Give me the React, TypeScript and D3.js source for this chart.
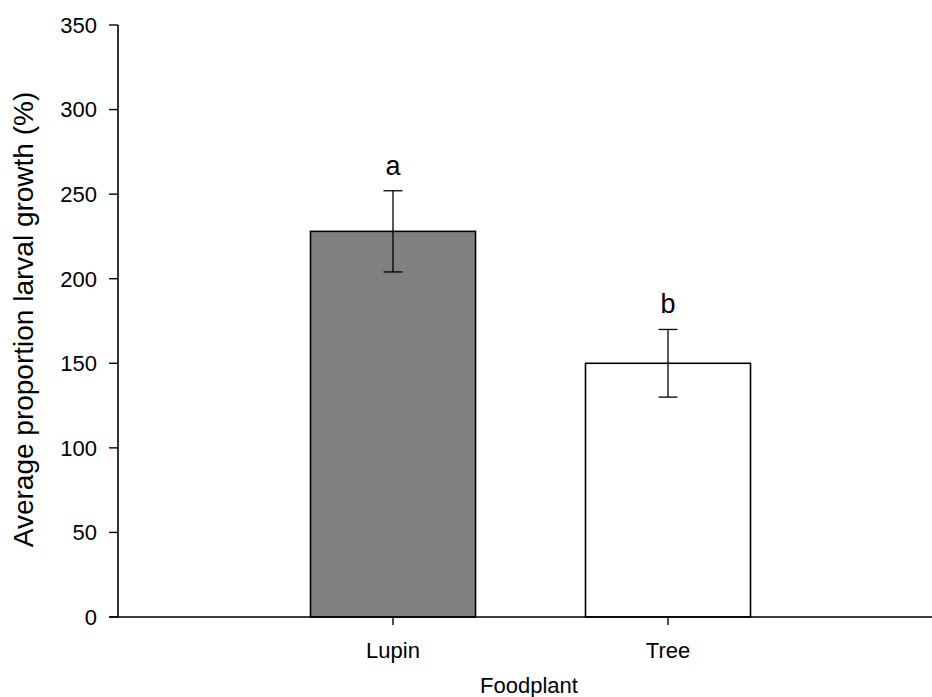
import React from 'react';
import * as d3 from 'd3';

// values
const foodplants = ['Lupin', 'Tree'];
const means = [228, 150];
const stdErrors = [24, 20];
const letters = ['a', 'b'];
const barColors = ['#808080', '#ffffff'];
const yTicks = [0, 50, 100, 150, 200, 250, 300, 350];

const W = 932;
const H = 697;
const FONT = '"Liberation Sans", Arial, Helvetica, sans-serif';

const App = () => {
  const left = 118;
  const bottom = 617;
  const top = 25;

  const x = d3.scalePoint<string>()
    .domain(foodplants)
    .range([left, 943])
    .padding(1);

  const barWidth = x.step() * 0.6;

  const y = d3.scaleLinear()
    .domain([0, 350])
    .range([bottom, top]);

  return (
    <svg
      width={W}
      height={H}
      style={{ position: 'absolute', left: 0, top: 0, background: '#fff' }}
      fontFamily={FONT}
    >
      {/* bars */}
      {foodplants.map((f, i) => (
        <rect
          key={f}
          x={x(f)! - barWidth / 2}
          y={y(means[i])}
          width={barWidth}
          height={y(0) - y(means[i])}
          fill={barColors[i]}
          stroke="#000"
          strokeWidth={1.6}
        />
      ))}

      {/* error bars */}
      {foodplants.map((f, i) => {
        const cx = x(f)!;
        const hi = y(means[i] + stdErrors[i]);
        const lo = y(means[i] - stdErrors[i]);
        return (
          <g key={f + '-err'} stroke="#000" strokeWidth={1.3}>
            <line x1={cx} x2={cx} y1={hi} y2={lo} />
            <line x1={cx - 9.5} x2={cx + 9.5} y1={hi} y2={hi} />
            <line x1={cx - 9.5} x2={cx + 9.5} y1={lo} y2={lo} />
          </g>
        );
      })}

      {/* significance letters */}
      {foodplants.map((f, i) => (
        <text
          key={f + '-lab'}
          x={x(f)!}
          y={y(means[i] + stdErrors[i]) - 16}
          textAnchor="middle"
          fontSize={27}
        >
          {letters[i]}
        </text>
      ))}

      {/* y axis */}
      <line x1={left} x2={left} y1={top} y2={bottom} stroke="#000" strokeWidth={1.6} />
      {yTicks.map(t => (
        <g key={t}>
          <line x1={left - 9} x2={left} y1={y(t)} y2={y(t)} stroke="#000" strokeWidth={1.4} />
          <text x={97} y={y(t)} dy="0.36em" textAnchor="end" fontSize={22}>
            {t}
          </text>
        </g>
      ))}

      {/* x axis */}
      <line x1={left - 9} x2={943} y1={bottom} y2={bottom} stroke="#000" strokeWidth={1.6} />
      {foodplants.map(f => (
        <g key={f + '-tick'}>
          <line x1={x(f)!} x2={x(f)!} y1={bottom} y2={bottom + 8} stroke="#000" strokeWidth={1.4} />
          <text x={x(f)!} y={658} textAnchor="middle" fontSize={22}>
            {f}
          </text>
        </g>
      ))}

      {/* axis titles */}
      <text x={529} y={693} textAnchor="middle" fontSize={22}>
        Foodplant
      </text>
      <text
        transform="rotate(-90)"
        x={-319.5}
        y={33}
        textAnchor="middle"
        fontSize={28}
      >
        Average proportion larval growth (%)
      </text>
    </svg>
  );
};

export default App;
